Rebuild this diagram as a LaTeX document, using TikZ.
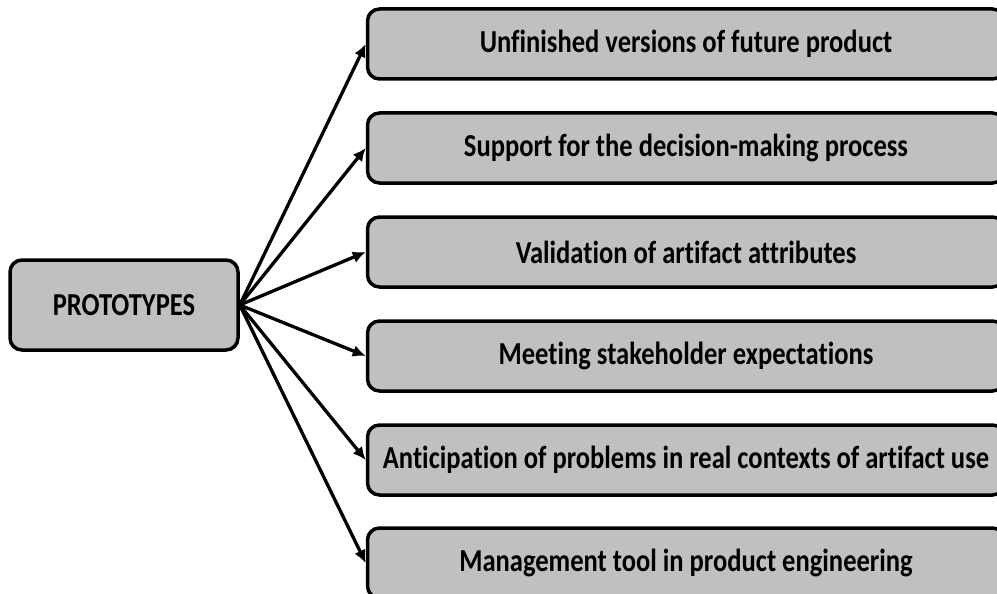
\documentclass[tikz,border=0pt]{standalone}
\usepackage{fontspec}
\setmainfont{Carlito}[Ligatures={NoCommon}]
\usetikzlibrary{arrows.meta}

\definecolor{boxgray}{RGB}{192,192,192}
\newcommand{\narrowtext}[1]{\scalebox{0.83}[1]{#1}}

\tikzset{
  rootbox/.style={draw=black, line width=3.5pt, fill=boxgray, rounded corners=12pt,
    minimum width=228pt, minimum height=90pt, inner sep=0pt,
    font=\bfseries\fontsize{32}{36}\selectfont},
  itembox/.style={draw=black, line width=3.5pt, fill=boxgray, rounded corners=12pt,
    minimum width=637pt, minimum height=70pt, inner sep=0pt,
    font=\bfseries\fontsize{32}{36}\selectfont},
  link/.style={line width=3.3pt, -{Latex[length=13pt,width=12pt]}}
}

\begin{document}
\begin{tikzpicture}[x=1pt,y=-1pt]
    \useasboundingbox (0,0) rectangle (997,594);
    \node[rootbox] (prot) at (124,305) {\narrowtext{PROTOTYPES}};

    \foreach \y/\t [count=\i] in {44/Unfinished versions of future product,
                                  148/Support for the decision-making process,
                                  252/Validation of artifact attributes,
                                  356/Meeting stakeholder expectations,
                                  460/Anticipation of problems in real contexts of artifact use,
                                  563/Management tool in product engineering}
    {
	\node[itembox] (item\i) at (686,\y) {\narrowtext{\t}};
	\draw[link] (prot.east) -- (item\i.west);
    }
\end{tikzpicture}
\end{document}
